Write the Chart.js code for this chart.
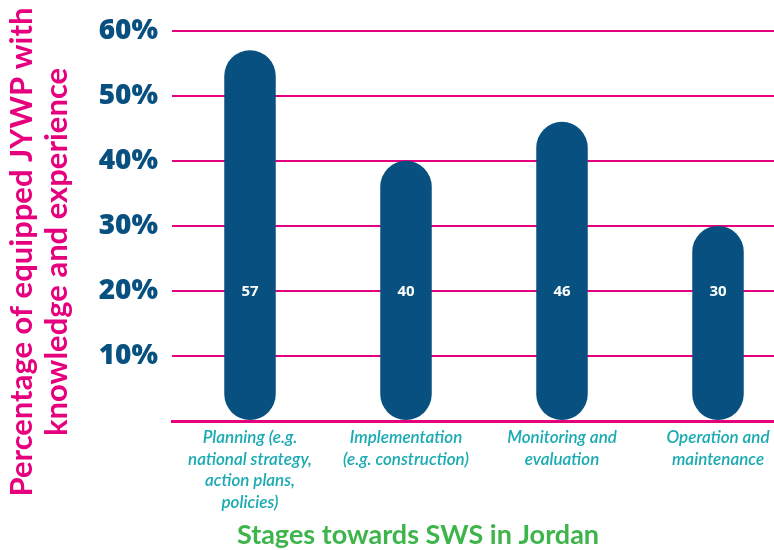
<!DOCTYPE html>
<html>
<head>
<meta charset="utf-8">
<script src="https://cdn.jsdelivr.net/npm/chart.js@4"></script>
<style>
  html, body { margin: 0; padding: 0; background: #fff; }
  #wrap { width: 774px; height: 550px; overflow: hidden; position: relative; }
  #box { width: 796px; height: 550px; }
</style>
</head>
<body>
<div id="wrap"><div id="box"><canvas id="chart"></canvas></div></div>
<script>
// data
var stages = [
    ['Planning (e.g.', 'national strategy,', 'action plans,', 'policies)'],
    ['Implementation', '(e.g. construction)'],
    ['Monitoring and', 'evaluation'],
    ['Operation and', 'maintenance']
];
var percentEquipped = [57, 40, 46, 30];
var yTicks = [10, 20, 30, 40, 50, 60];
var yTitle = ['Percentage of equipped JYWP with', 'knowledge and experience'];
var xTitle = 'Stages towards SWS in Jordan';

var BLUE = '#07507f';
var PINK = '#e6007e';
var TEAL = '#19aab2';
var GREEN = '#3db54a';

// value labels inside the bars, all on the 20% line
var barLabels = {
    id: 'barLabels',
    afterDatasetsDraw: function(chart) {
        var ctx = chart.ctx;
        var y = chart.scales.y.getPixelForValue(20);
        ctx.save();
        ctx.fillStyle = '#fff';
        ctx.font = 'bold 15px "Open Sans"';
        ctx.textAlign = 'center';
        ctx.textBaseline = 'middle';
        chart.getDatasetMeta(0).data.forEach(function(bar, i) {
            ctx.fillText(percentEquipped[i], bar.x, y + 1);
        });
        ctx.restore();
    }
};

// axis titles placed like in the original
var axisTitles = {
    id: 'axisTitles',
    afterDraw: function(chart) {
        var ctx = chart.ctx;
        ctx.save();
        ctx.fillStyle = PINK;
        ctx.font = 'bold 31px Lato';
        ctx.textAlign = 'center';
        ctx.textBaseline = 'middle';
        ctx.translate(0, 252);
        ctx.rotate(-Math.PI / 2);
        ctx.fillText(yTitle[0], 0, 22);
        ctx.fillText(yTitle[1], 0, 57);
        ctx.restore();

        ctx.save();
        ctx.fillStyle = GREEN;
        ctx.font = 'bold 27px Lato';
        ctx.textAlign = 'center';
        ctx.textBaseline = 'middle';
        ctx.fillText(xTitle, 418, 535);
        ctx.restore();
    }
};

var ctx = document.getElementById('chart').getContext('2d');
var chart = new Chart(ctx, {
    type: 'bar',
    data: {
        labels: stages,
        datasets: [{
            data: percentEquipped,
            backgroundColor: BLUE,
            borderRadius: 26,
            borderSkipped: false,
            barPercentage: 0.66,
            categoryPercentage: 0.5
        }]
    },
    options: {
        responsive: true,
        maintainAspectRatio: false,
        animation: false,
        layout: { padding: { top: 30, left: 0, right: 0, bottom: 0 } },
        plugins: {
            legend: { display: false },
            tooltip: { enabled: false }
        },
        scales: {
            x: {
                grid: { display: false, drawTicks: false },
                border: { color: PINK, width: 3 },
                ticks: {
                    color: TEAL,
                    font: { family: 'Lato', style: 'italic', weight: '600', size: 17, lineHeight: 1.27 },
                    padding: 6,
                    maxRotation: 0,
                    autoSkip: false
                },
                afterFit: function(scale) { scale.height = 129; }
            },
            y: {
                min: 0,
                max: 60,
                afterBuildTicks: function(scale) {
                    scale.ticks = [0].concat(yTicks).map(function(v) { return { value: v }; });
                },
                grid: { color: PINK, lineWidth: 2, drawTicks: false },
                border: { display: false },
                ticks: {
                    color: BLUE,
                    padding: 14,
                    font: { family: '"Open Sans"', weight: '800', size: 28 },
                    callback: function(v) { return v === 0 ? '' : v + '%'; }
                },
                afterFit: function(scale) { scale.width = 172; }
            }
        }
    },
    plugins: [barLabels, axisTitles]
});
</script>
</body>
</html>
